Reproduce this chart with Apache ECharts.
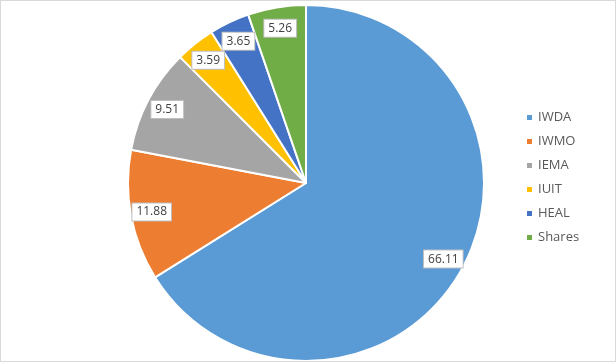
<!DOCTYPE html>
<html><head><meta charset="utf-8">
<script src="https://cdn.jsdelivr.net/npm/echarts@6/dist/echarts.min.js"></script>
<style>
html,body{margin:0;padding:0;background:#fff;}
#c{width:614px;height:360px;border:1px solid #d9d9d9;}
</style></head>
<body><div id="c"></div>
<script>
const categories = ['IWDA','IWMO','IEMA','IUIT','HEAL','Shares'];
const values = [66.11, 11.88, 9.51, 3.59, 3.65, 5.26];
const colors = ['#5B9BD5','#ED7D31','#A5A5A5','#FFC000','#4472C4','#70AD47'];

const data = categories.map((n,i)=>({name:n, value:values[i]}));
const chart = echarts.init(document.getElementById('c'));
chart.setOption({
  animation:false,
  color: colors,
  legend:{
    orient:'vertical', left:519, top:105,
    itemWidth:7, itemHeight:7, itemGap:11, icon:'rect',
    textStyle:{color:'#595959', fontSize:13, fontFamily:'Open Sans'},
    data: categories
  },
  series:[
    {
      type:'pie', center:[305,182], radius:[0,178], startAngle:90, clockwise:true,
      data:data, label:{show:false}, labelLine:{show:false},
      itemStyle:{borderColor:'#fff', borderWidth:2},
      emphasis:{disabled:true}, silent:true
    },
    {
      type:'pie', center:[305,182], radius:[130,178], startAngle:90, clockwise:true,
      data:data, itemStyle:{color:'transparent', borderWidth:0},
      avoidLabelOverlap:false, labelLayout:{hideOverlap:false},
      labelLine:{show:false}, silent:true, emphasis:{disabled:true},
      legendHoverLink:false,
      label:{show:true, position:'inside', formatter:p=>p.value.toFixed(2),
        backgroundColor:'#fff', borderColor:'#bfbfbf', borderWidth:1,
        padding:[3,4,2,4], color:'#404040', fontSize:12, fontFamily:'Open Sans'}
    }
  ]
});
</script></body></html>
